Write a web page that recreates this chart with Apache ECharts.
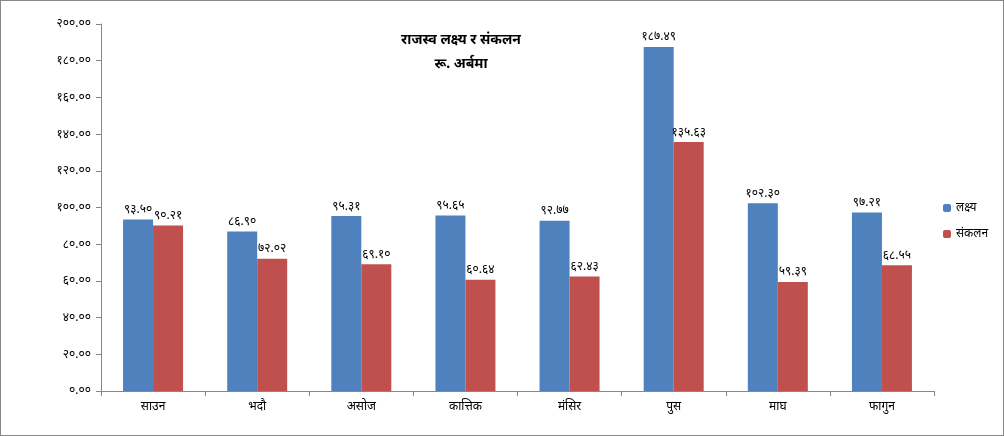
<!DOCTYPE html>
<html><head><meta charset="utf-8">
<script src="https://cdn.jsdelivr.net/npm/echarts@6/dist/echarts.min.js"></script>
<style>html,body{margin:0;padding:0;background:#fff}#c{width:1004px;height:436px;box-sizing:border-box;border:1px solid #888}</style>
</head><body><div id="c"></div>
<script>
const categories=['साउन','भदौ','असोज','कात्तिक','मंसिर','पुस','माघ','फागुन'];
const target=[93.50,86.90,95.31,95.65,92.77,187.49,102.30,97.21];
const collected=[90.21,72.02,69.10,60.64,62.43,135.63,59.39,68.55];
const seriesNames=['लक्ष्य','संकलन'];
const dev='०१२३४५६७८९';
const toDev=s=>String(s).replace(/[0-9]/g,d=>dev[d]);
const font='"Noto Sans","DejaVu Sans",sans-serif';
const chart=echarts.init(document.getElementById('c'));
const lbl={show:true,position:'top',color:'#000',fontSize:12,fontFamily:font,formatter:p=>toDev(p.value.toFixed(2)),distance:4};
chart.setOption({
 animation:false,
 title:{text:'राजस्व लक्ष्य र संकलन\nरू. अर्बमा',left:455,top:22,textAlign:'center',textStyle:{fontSize:14,fontWeight:'bold',color:'#000',fontFamily:font,lineHeight:24}},
 legend:{orient:'vertical',left:937,top:196,itemWidth:8,itemHeight:8,itemGap:14,textStyle:{fontSize:12,color:'#000',fontFamily:font},data:seriesNames},
 grid:{left:100,right:69,top:23,bottom:44},
 xAxis:{type:'category',data:categories,axisLine:{lineStyle:{color:'#888'}},axisTick:{show:true,length:5,lineStyle:{color:'#888'}},axisLabel:{color:'#000',fontSize:12,fontFamily:font,margin:10}},
 yAxis:{type:'value',min:0,max:200,interval:20,splitLine:{show:false},axisLine:{show:true,lineStyle:{color:'#888'}},axisTick:{show:true,length:5,lineStyle:{color:'#888'}},axisLabel:{color:'#000',fontSize:12,fontFamily:font,formatter:v=>toDev(v.toFixed(2)),margin:10}},
 series:[
  {name:seriesNames[0],type:'bar',data:target,barWidth:30,barGap:'0%',itemStyle:{color:'#4F81BD'},label:lbl},
  {name:seriesNames[1],type:'bar',data:collected,barWidth:30,itemStyle:{color:'#C0504D'},label:lbl}
 ]
});
</script></body></html>
